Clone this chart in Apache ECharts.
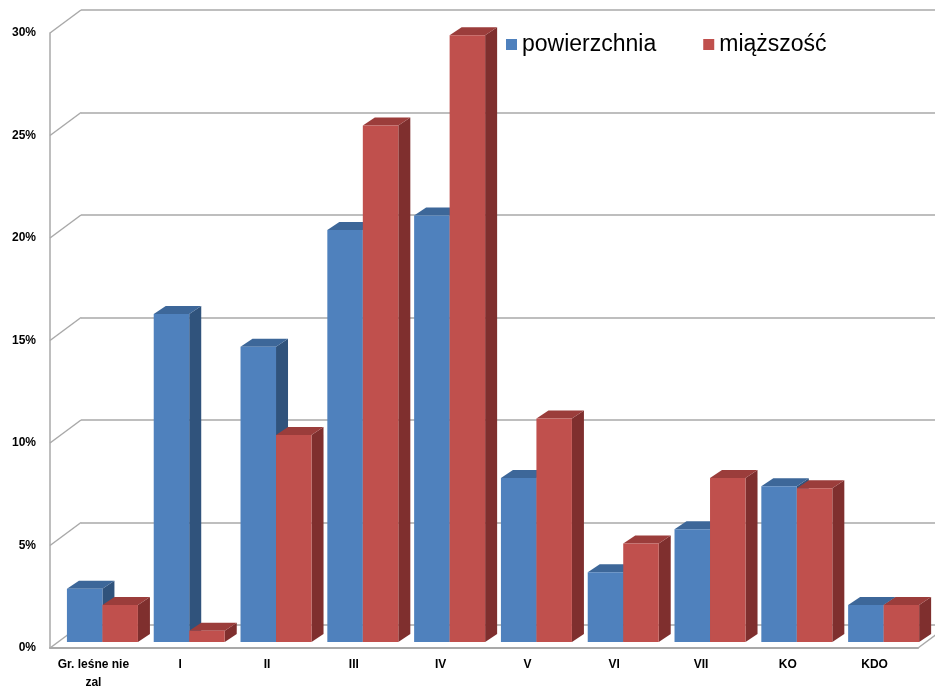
<!DOCTYPE html>
<html>
<head>
<meta charset="utf-8">
<script src="https://cdn.jsdelivr.net/npm/echarts@6/dist/echarts.min.js"></script>
<style>
  html, body { margin: 0; padding: 0; background: #fff; }
  #main { width: 935px; height: 689px; }
</style>
</head>
<body>
<div id="main"></div>
<script>
// dane z wykresu (w %)
const categories = ['Gr. leśne nie\nzal', 'I', 'II', 'III', 'IV', 'V', 'VI', 'VII', 'KO', 'KDO'];
const powierzchnia = [2.6, 16.0, 14.4, 20.1, 20.8, 8.0, 3.4, 5.5, 7.6, 1.8];
const miazszosc = [1.8, 0.55, 10.1, 25.2, 29.6, 10.9, 4.8, 8.0, 7.5, 1.8];
const yTicks = [0, 5, 10, 15, 20, 25, 30];

const gridColor = '#a9a9a9';
const depthX = 31, depthY = -23;   // glebokosc scian
const barDx = 12, barDy = -8;      // glebokosc slupka

const blueFaces = { front: '#4f81bd', top: '#3d6799', side: '#30537c' };
const redFaces = { front: '#c0504d', top: '#9b3d3b', side: '#7f2f2e' };

function barItem(left, faces) {
    return function (params, api) {
        const i = api.value(0);
        const v = api.value(1);
        const top = api.coord([i, v]);
        const base = api.coord([i, 0]);
        const band = api.size([1, 0])[0];
        const w = band * 0.409;
        const off = band * 0.104;
        const x0 = left ? top[0] + off - w : top[0] + off;
        const x1 = x0 + w;
        const y0 = top[1] - 6;
        const y1 = base[1] - 6;
        return {
            type: 'group',
            children: [
                {
                    type: 'polygon',
                    shape: { points: [[x1, y0], [x1 + barDx, y0 + barDy], [x1 + barDx, y1 + barDy], [x1, y1]] },
                    style: { fill: faces.side }
                },
                {
                    type: 'polygon',
                    shape: { points: [[x0, y0], [x0 + barDx, y0 + barDy], [x1 + barDx, y0 + barDy], [x1, y0]] },
                    style: { fill: faces.top }
                },
                {
                    type: 'rect',
                    shape: { x: x0, y: y0, width: w, height: y1 - y0 },
                    style: { fill: faces.front }
                }
            ]
        };
    };
}

const chart = echarts.init(document.getElementById('main'));
chart.setOption({
    animation: false,
    backgroundColor: '#fff',
    legend: {
        data: ['powierzchnia', 'miąższość'],
        left: 501,
        top: 28,
        icon: 'rect',
        itemWidth: 11,
        itemHeight: 11,
        itemGap: 47,
        textStyle: {
            fontFamily: 'Liberation Sans',
            fontSize: 23,
            color: '#000'
        }
    },
    grid: [
        { left: 50, right: 17, top: 33, bottom: 41, outerBoundsMode: 'none', containLabel: false },
        { left: 81, right: 0, top: 10, bottom: 64, outerBoundsMode: 'none', containLabel: false }
    ],
    xAxis: [
        {
            type: 'category',
            gridIndex: 0,
            data: categories,
            axisLine: { show: true, lineStyle: { color: gridColor, width: 2 } },
            axisTick: { show: false },
            axisLabel: {
                margin: 8,
                interval: 0,
                fontFamily: 'Liberation Sans',
                fontWeight: 'bold',
                fontSize: 12,
                lineHeight: 18,
                color: '#000'
            },
            splitLine: { show: false }
        },
        {
            type: 'value',
            gridIndex: 1,
            show: false
        }
    ],
    yAxis: [
        {
            type: 'value',
            gridIndex: 0,
            min: 0,
            max: 30,
            interval: 5,
            axisLine: { show: true, lineStyle: { color: gridColor, width: 1.5 } },
            axisTick: { show: false },
            splitLine: { show: false },
            axisLabel: {
                formatter: '{value}%',
                margin: 14,
                fontFamily: 'Liberation Sans',
                fontWeight: 'bold',
                fontSize: 12,
                color: '#000'
            }
        },
        {
            type: 'value',
            gridIndex: 1,
            min: 0,
            max: 30,
            interval: 5,
            axisLine: { show: false },
            axisTick: { show: false },
            axisLabel: { show: false },
            splitLine: { show: true, lineStyle: { color: gridColor, width: 1.5 } }
        }
    ],
    series: [
        {
            name: 'walls',
            type: 'custom',
            xAxisIndex: 0,
            yAxisIndex: 0,
            silent: true,
            z: 1,
            data: yTicks.map(t => [0, t]),
            encode: { x: 0, y: 1 },
            renderItem: function (params, api) {
                const cs = params.coordSys;
                const y = api.coord([0, api.value(1)])[1];
                const children = [{
                    type: 'line',
                    shape: { x1: cs.x, y1: y, x2: cs.x + depthX, y2: y + depthY },
                    style: { stroke: gridColor, lineWidth: 1.5 }
                }];
                if (api.value(1) === 0) {
                    children.push({
                        type: 'line',
                        shape: { x1: cs.x + cs.width, y1: y, x2: cs.x + cs.width + depthX, y2: y + depthY },
                        style: { stroke: gridColor, lineWidth: 1.5 }
                    });
                }
                return { type: 'group', children: children };
            }
        },
        {
            name: 'powierzchnia',
            type: 'custom',
            xAxisIndex: 0,
            yAxisIndex: 0,
            z: 2,
            itemStyle: { color: blueFaces.front },
            data: powierzchnia.map((v, i) => [i, v]),
            encode: { x: 0, y: 1 },
            renderItem: barItem(true, blueFaces)
        },
        {
            name: 'miąższość',
            type: 'custom',
            xAxisIndex: 0,
            yAxisIndex: 0,
            z: 3,
            itemStyle: { color: redFaces.front },
            data: miazszosc.map((v, i) => [i, v]),
            encode: { x: 0, y: 1 },
            renderItem: barItem(false, redFaces)
        }
    ]
});
</script>
</body>
</html>
